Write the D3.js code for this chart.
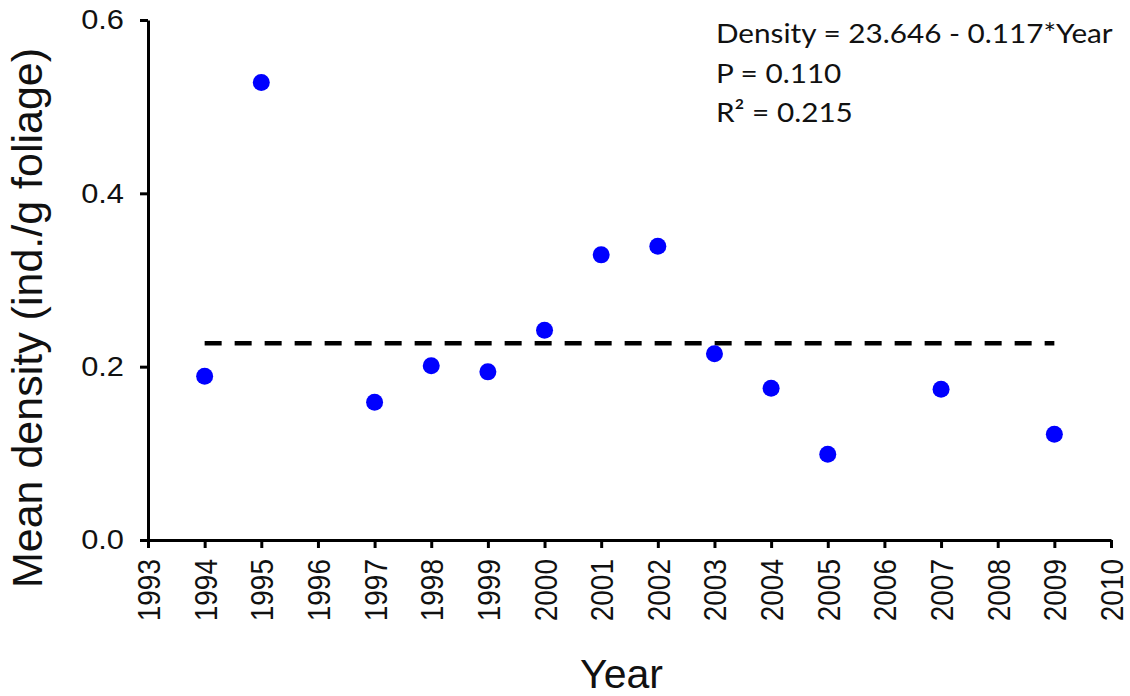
<!DOCTYPE html>
<html>
<head>
<meta charset="utf-8">
<script src="https://cdn.jsdelivr.net/npm/d3@7"></script>
<style>
  body { margin: 0; background: #fff; }
  svg { display: block; }
</style>
</head>
<body>
<svg width="1130" height="696"></svg>
<script>
// data
var years = [1994, 1995, 1997, 1998, 1999, 2000, 2001, 2002, 2003, 2004, 2005, 2007, 2009];
var density = [0.189, 0.528, 0.159, 0.201, 0.194, 0.242, 0.329, 0.339, 0.215, 0.175, 0.099, 0.174, 0.122];
var trendYears = [1994, 2009];
var trendValues = [0.227, 0.227];
var xTicks = d3.range(1993, 2011);
var yTicks = [0, 0.2, 0.4, 0.6];
var notes = ['Density = 23.646 - 0.117*Year', 'P = 0.110', 'R\u00B2 = 0.215'];

var margin = {left: 148, right: 19, top: 20, bottom: 156};
var width = 1130 - margin.left - margin.right;
var height = 696 - margin.top - margin.bottom;

var svg = d3.select('svg')
    .append('g')
    .attr('transform', 'translate(' + margin.left + ',' + margin.top + ')');

var scaleX = d3.scaleLinear().domain([1993, 2010]).range([0, width]);
var scaleY = d3.scaleLinear().domain([0, 0.6]).range([height, 0]);

var xAxis = svg.append('g')
    .attr('transform', 'translate(0,' + height + ')')
    .call(d3.axisBottom(scaleX).tickValues(xTicks).tickFormat(d3.format('d')).tickSize(8).tickSizeOuter(0));

// rotated year labels, a bit wider than plain Arial like in the original
xAxis.selectAll('text')
    .attr('font-family', 'Liberation Sans, Arial, sans-serif')
    .attr('font-size', 28)
    .attr('fill', '#111')
    .attr('text-anchor', 'end')
    .attr('dy', '0.36em')
    .attr('transform', 'translate(0,19) rotate(-90) scale(1,1.14)')
    .attr('x', 0)
    .attr('y', 0);

var yAxis = svg.append('g')
    .call(d3.axisLeft(scaleY).tickValues(yTicks).tickFormat(d3.format('.1f')).tickSize(8).tickSizeOuter(0));

yAxis.selectAll('text')
    .attr('font-family', 'Liberation Sans, Arial, sans-serif')
    .attr('font-size', 28)
    .attr('fill', '#111')
    .attr('x', 0)
    .attr('transform', 'translate(-24,0) scale(1.1,1)');

svg.selectAll('.domain, .tick line')
    .attr('stroke', '#000')
    .attr('stroke-width', 3);

// horizontal fitted line
var trend = trendYears.map(function(d, i) { return [d, trendValues[i]]; });
svg.append('path')
    .datum(trend)
    .attr('d', d3.line()
        .x(function(d) { return scaleX(d[0]); })
        .y(function(d) { return scaleY(d[1]); }))
    .attr('fill', 'none')
    .attr('stroke', '#000')
    .attr('stroke-width', 4.5)
    .attr('stroke-dasharray', '17,13');

svg.selectAll('circle')
    .data(years)
    .enter()
    .append('circle')
    .attr('cx', function(d) { return scaleX(d); })
    .attr('cy', function(d, i) { return scaleY(density[i]); })
    .attr('r', 8.5)
    .attr('fill', '#0000ff');

svg.append('text')
    .attr('x', width / 2 - 8)
    .attr('y', height + 148)
    .attr('text-anchor', 'middle')
    .attr('font-family', 'Liberation Sans, Arial, sans-serif')
    .attr('font-size', 41)
    .attr('fill', '#111')
    .text('Year');

svg.append('text')
    .attr('transform', 'rotate(-90)')
    .attr('x', -height / 2 - 38)
    .attr('y', -106)
    .attr('text-anchor', 'middle')
    .attr('font-family', 'Liberation Sans, Arial, sans-serif')
    .attr('font-size', 43)
    .attr('fill', '#111')
    .text('Mean density (ind./g foliage)');

svg.selectAll('.note')
    .data(notes)
    .enter()
    .append('text')
    .attr('class', 'note')
    .attr('transform', function(d, i) { return 'translate(568,' + (23 + i * 39.5) + ') scale(1.1,1)'; })
    .attr('font-family', 'Lato, Carlito, sans-serif')
    .attr('font-size', 27)
    .attr('fill', '#111')
    .text(function(d) { return d; });
</script>
</body>
</html>
